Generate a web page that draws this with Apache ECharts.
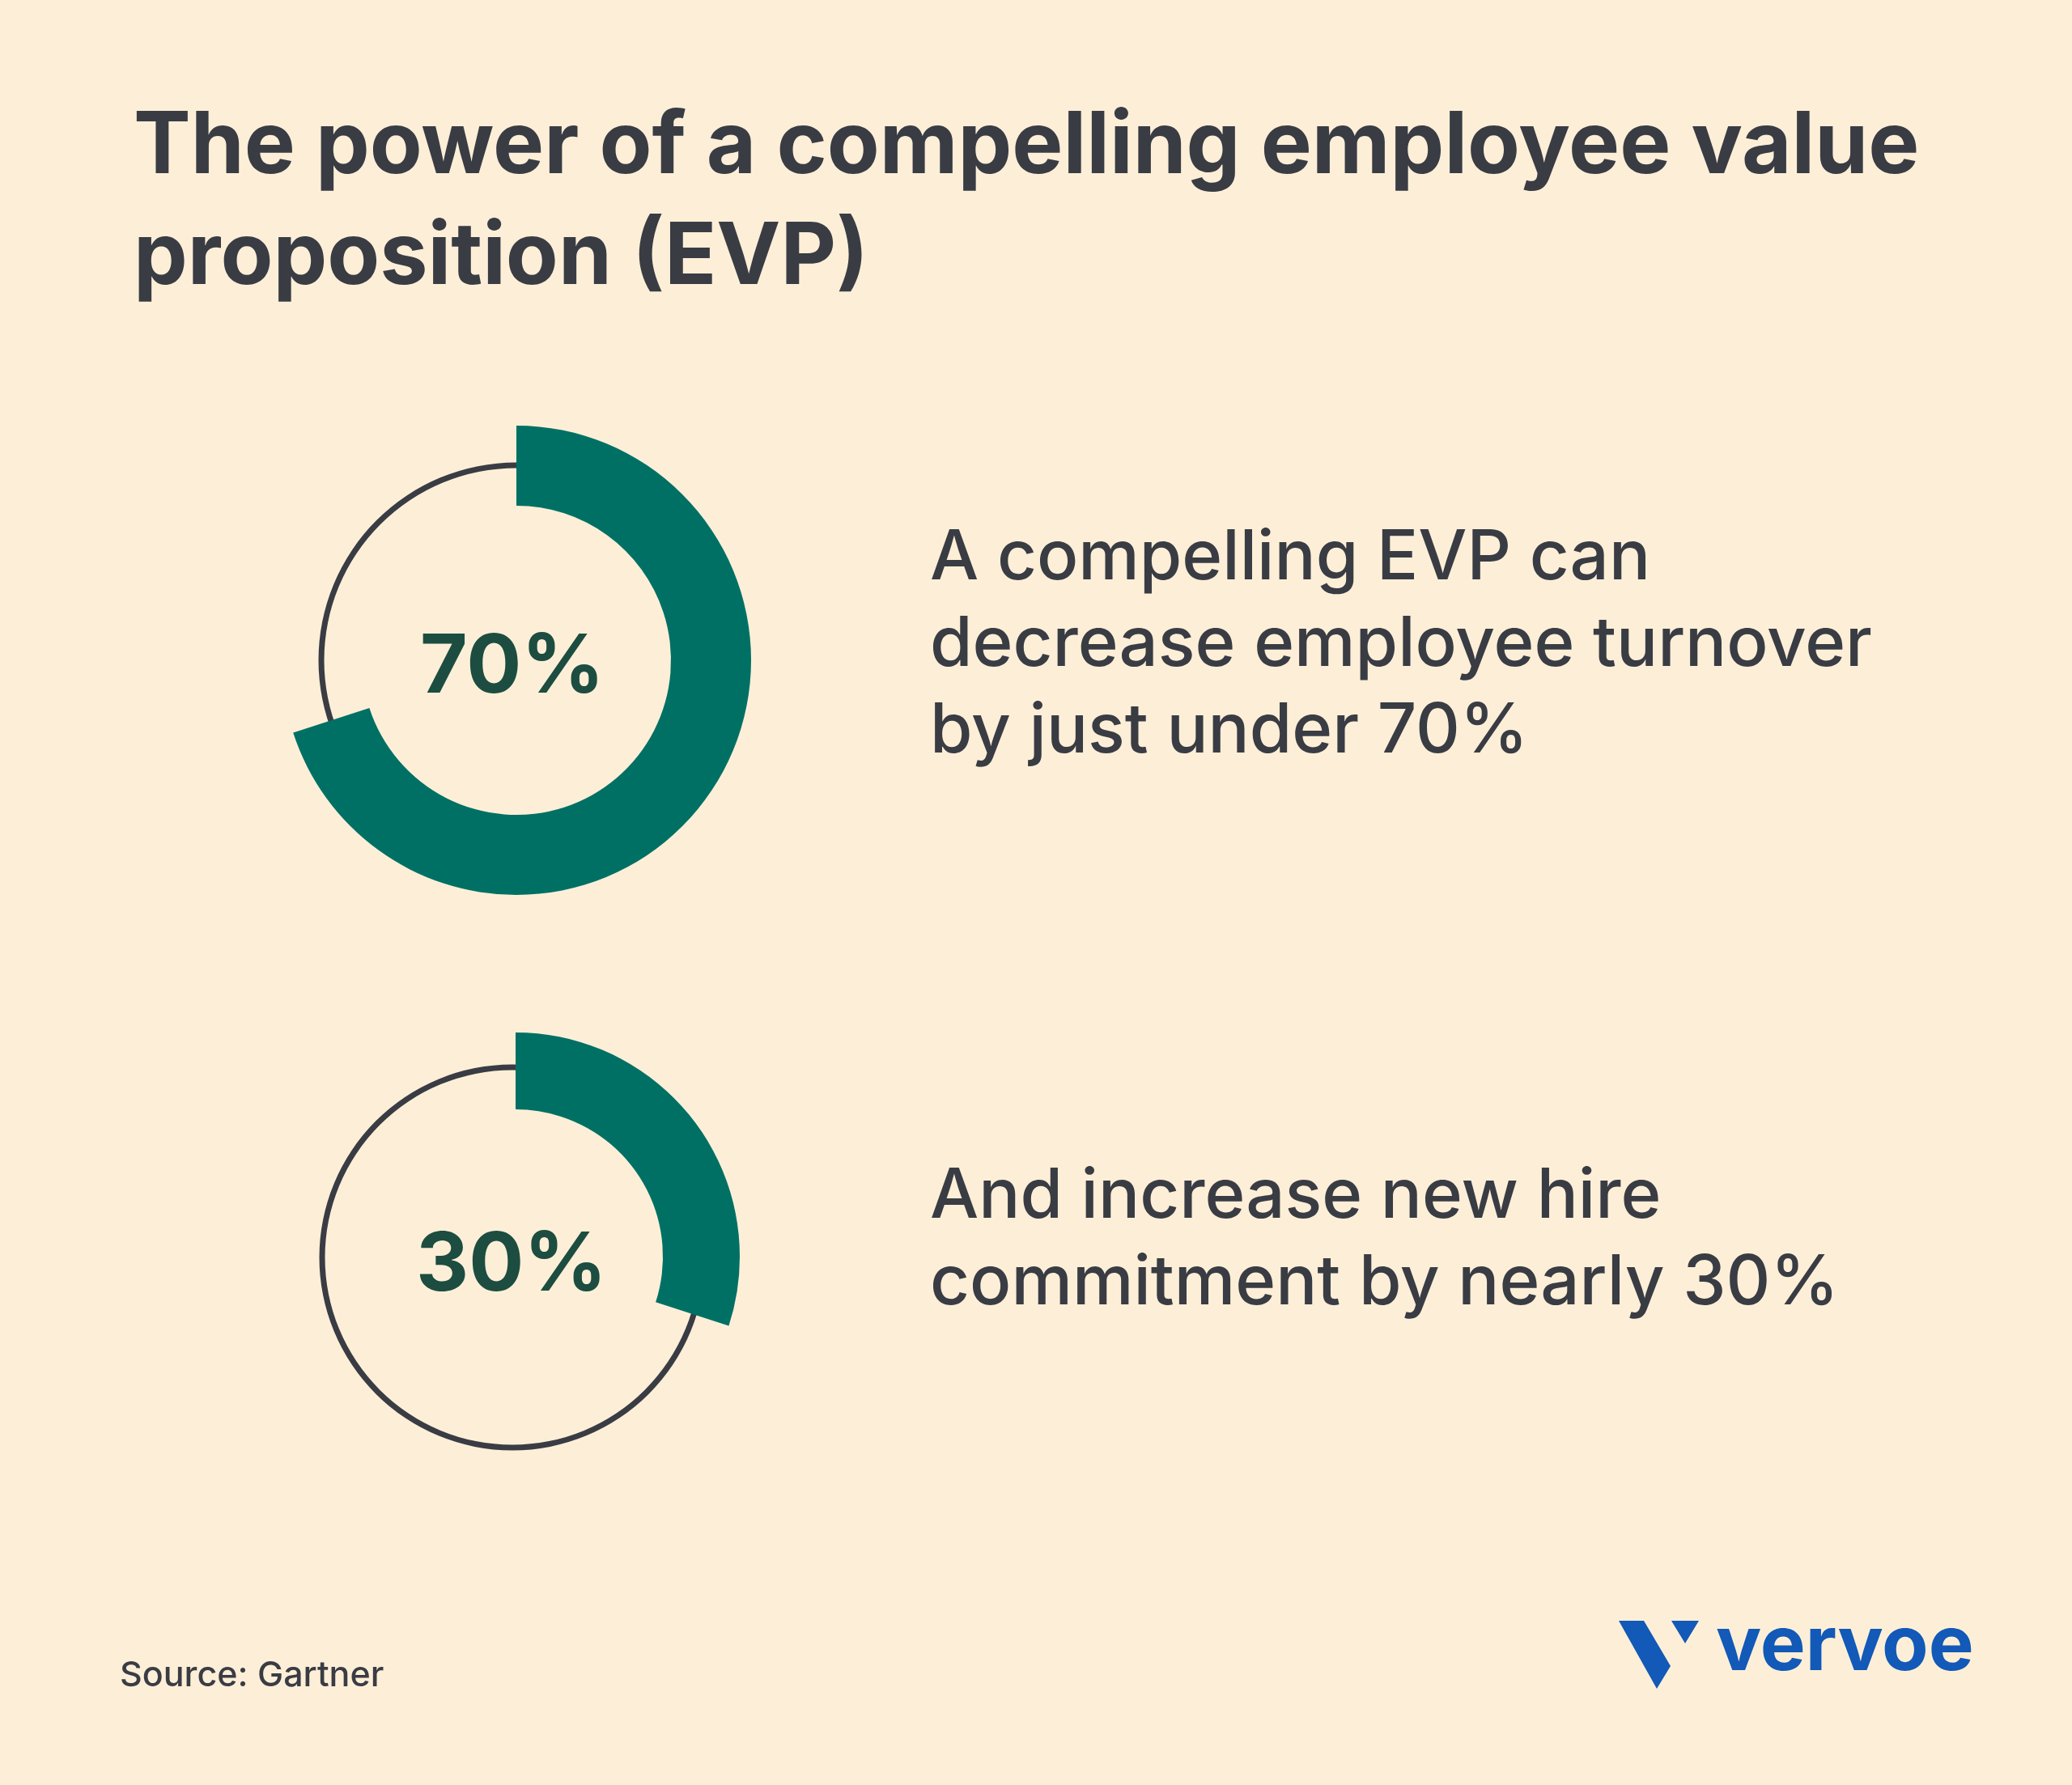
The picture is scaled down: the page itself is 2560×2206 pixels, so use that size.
<!DOCTYPE html>
<html>
<head>
<meta charset="utf-8">
<script src="https://cdn.jsdelivr.net/npm/echarts@6/dist/echarts.min.js"></script>
<style>
  html, body { margin: 0; padding: 0; background: #FDEFD7; }
  #chart { width: 2560px; height: 2206px; }
</style>
</head>
<body>
<div id="chart"></div>
<script>
// ---- data ----
const titleLines = ['The power of a compelling employee value', 'proposition (EVP)'];
const values = [70, 30];
const centerLabels = ['70%', '30%'];
const descLines1 = ['A compelling EVP can', 'decrease employee turnover', 'by just under 70%'];
const descLines2 = ['And increase new hire', 'commitment by nearly 30%'];
const sourceText = 'Source: Gartner';
const brandText = 'vervoe';

// ---- styles / layout ----
const BG = '#FDEFD7';
const GREEN = '#007065';
const DARK = '#3A3C44';
const LABEL = '#1C4D40';
const BLUE = '#1259B8';
const FONT = 'Inter, "Noto Sans", sans-serif';

const donuts = [
  { center: [638, 816], ringCenter: [638, 816], inner: 191, outer: 290, ring: 241, labelY: 826 },
  { center: [637, 1553], ringCenter: [633, 1554], inner: 182, outer: 277, ring: 235, labelY: 1565 }
];
const descBlocks = [
  { lines: descLines1, ys: [690, 797, 904] },
  { lines: descLines2, ys: [1479, 1586] }
];

const chart = echarts.init(document.getElementById('chart'), null, { renderer: 'canvas' });

const series = [];
values.forEach((v, i) => {
  const d = donuts[i];
  series.push({
    type: 'pie', silent: true, animation: false, z: 1,
    center: d.ringCenter, radius: [d.ring - 3.5, d.ring + 3.5],
    label: { show: false }, labelLine: { show: false },
    emphasis: { disabled: true },
    itemStyle: { color: DARK, borderWidth: 0 },
    data: [{ value: 100, name: 'ring' + i }]
  });
  series.push({
    type: 'pie', silent: true, animation: false, z: 2,
    center: d.center, radius: [d.inner, d.outer],
    startAngle: 90, clockwise: true,
    label: { show: false }, labelLine: { show: false },
    emphasis: { disabled: true },
    data: [
      { value: v, name: centerLabels[i], itemStyle: { color: GREEN, borderWidth: 0 } },
      { value: 100 - v, name: 'rest' + i, itemStyle: { color: 'rgba(0,0,0,0)', borderWidth: 0 } }
    ]
  });
});

const graphics = [];
titleLines.forEach((t, i) => {
  graphics.push({ type: 'text', z: 10, position: [165, [182, 319][i]],
    style: { text: t, fill: DARK, font: '700 106px ' + FONT, verticalAlign: 'middle' } });
});
values.forEach((v, i) => {
  graphics.push({ type: 'text', z: 10, position: [donuts[i].center[0] - 5, donuts[i].labelY],
    style: { text: centerLabels[i], fill: LABEL, font: '700 101px ' + FONT, align: 'center', verticalAlign: 'middle' } });
});
descBlocks.forEach(b => {
  b.lines.forEach((t, j) => {
    graphics.push({ type: 'text', z: 10, position: [1149, b.ys[j]],
      style: { text: t, fill: DARK, font: '500 85px ' + FONT, verticalAlign: 'middle' } });
  });
});
graphics.push({ type: 'text', z: 10, position: [148, 2071],
  style: { text: sourceText, fill: DARK, font: '500 43px ' + FONT, verticalAlign: 'middle' } });
// logo
graphics.push({ type: 'polygon', z: 10, shape: { points: [[2000, 2003], [2031, 2003], [2064, 2059], [2047, 2087]] }, style: { fill: BLUE } });
graphics.push({ type: 'polygon', z: 10, shape: { points: [[2065, 2003], [2099, 2003], [2082, 2031]] }, style: { fill: BLUE } });
graphics.push({ type: 'text', z: 10, position: [2120, 2036],
  style: { text: brandText, fill: BLUE, font: '700 94px ' + FONT, verticalAlign: 'middle' } });

chart.setOption({
  backgroundColor: BG,
  animation: false,
  series: series,
  graphic: { elements: graphics }
});
</script>
</body>
</html>
